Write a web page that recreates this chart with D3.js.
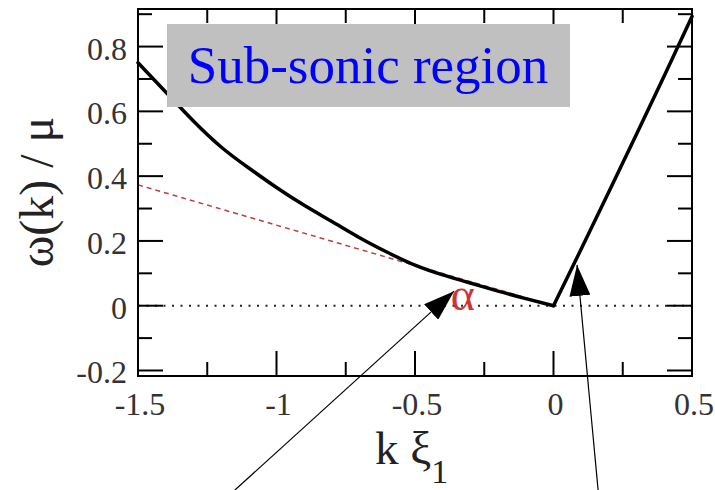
<!DOCTYPE html>
<html>
<head>
<meta charset="utf-8">
<script src="https://cdn.jsdelivr.net/npm/d3@7"></script>
<style>
  html, body { margin: 0; padding: 0; background: #fff; }
  svg { display: block; }
</style>
</head>
<body>
<svg id="chart" width="715" height="490"></svg>
<script>
// Dispersion curve ω(k)/μ versus k ξ1 (black solid)
const curveK = [-1.5, -1.4, -1.3, -1.2, -1.1, -1.0, -0.9, -0.8, -0.7, -0.6, -0.5, -0.4, -0.3, -0.2, -0.1, 0,
                0.1, 0.2, 0.3, 0.4, 0.5];
const curveW = [0.75, 0.66, 0.57, 0.49, 0.425, 0.365, 0.31, 0.26, 0.21, 0.165, 0.125, 0.095, 0.07, 0.045, 0.022, 0,
                0.175, 0.352, 0.53, 0.71, 0.893];

// Low-k tangent (red dashed)
const tangentK = [-1.5, 0];
const tangentW = [0.373, 0];

// Zero reference (dotted)
const zeroK = [-1.5, 0.5];
const zeroW = [0, 0];

// Tick values
const xMajor = [-1.5, -1, -0.5, 0, 0.5];
const xMinor = [-1.25, -0.75, -0.25, 0.25];
const xLabels = ["-1.5", "-1", "-0.5", "0", "0.5"];
const yMajor = [-0.2, 0, 0.2, 0.4, 0.6, 0.8];
const yMinor = [-0.1, 0.1, 0.3, 0.5, 0.7, 0.9];
const yLabels = ["-0.2", "0", "0.2", "0.4", "0.6", "0.8"];

// Annotation arrows: [tailK, tailW, tipK, tipW]
const arrows = [
  [-1.15, -0.569, -0.359, 0.045],
  [0.161, -0.569, 0.085, 0.126]
];
const alphaLabel = { k: -0.327, w: -0.013, text: "α" };
const regionLabel = "Sub-sonic region";

const SERIF = "'Liberation Serif', 'Times New Roman', Times, 'DejaVu Serif', serif";

const svg = d3.select("#chart");
const L = 138, R = 692, T = 9, B = 376;
const x = d3.scaleLinear().domain([-1.5, 0.5]).range([L, R]);
const y = d3.scaleLinear().domain([-0.217, 0.916]).range([B, T]);

const line = d3.line().x(d => x(d[0])).y(d => y(d[1]));
const smooth = d3.line().x(d => x(d[0])).y(d => y(d[1])).curve(d3.curveNatural);

// zero line
svg.append("path")
  .attr("d", line(zeroK.map((k, i) => [k, zeroW[i]])))
  .attr("fill", "none").attr("stroke", "#222")
  .attr("stroke-width", 2).attr("stroke-dasharray", "2,6.5");

// tangent
svg.append("path")
  .attr("d", line(tangentK.map((k, i) => [k, tangentW[i]])))
  .attr("fill", "none").attr("stroke", "#b84040")
  .attr("stroke-width", 1.5).attr("stroke-dasharray", "5,4");

// dispersion curve, drawn as two branches joined at the k = 0 kink
const pts = curveK.map((k, i) => [k, curveW[i]]);
const leftBranch = pts.filter(p => p[0] <= 0);
const rightBranch = pts.filter(p => p[0] >= 0);
[leftBranch, rightBranch].forEach(b => {
  svg.append("path")
    .attr("d", smooth(b))
    .attr("fill", "none").attr("stroke", "#000")
    .attr("stroke-width", 3.5).attr("stroke-linejoin", "round").attr("stroke-linecap", "round");
});

// frame
svg.append("rect")
  .attr("x", L).attr("y", T).attr("width", R - L).attr("height", B - T)
  .attr("fill", "none").attr("stroke", "#000").attr("stroke-width", 2);

// ticks, inward on all four sides
const MAJ = 25, MIN = 14;
const ticks = svg.append("g").attr("stroke", "#000").attr("stroke-width", 2);
xMajor.concat(xMinor).forEach(v => {
  const len = xMajor.includes(v) ? MAJ : MIN;
  ticks.append("line").attr("x1", x(v)).attr("x2", x(v)).attr("y1", B).attr("y2", B - len);
  ticks.append("line").attr("x1", x(v)).attr("x2", x(v)).attr("y1", T).attr("y2", T + len);
});
yMajor.concat(yMinor).forEach(v => {
  const len = yMajor.includes(v) ? MAJ : MIN;
  ticks.append("line").attr("y1", y(v)).attr("y2", y(v)).attr("x1", L).attr("x2", L + len);
  ticks.append("line").attr("y1", y(v)).attr("y2", y(v)).attr("x1", R).attr("x2", R - len);
});

// tick labels
xMajor.forEach((v, i) => {
  svg.append("text").attr("x", x(v) + 2).attr("y", 415)
    .attr("font-family", SERIF)
    .attr("text-anchor", "middle").attr("font-size", 32).attr("fill", "#333")
    .text(xLabels[i]);
});
yMajor.forEach((v, i) => {
  svg.append("text").attr("x", 127).attr("y", y(v) + 13)
    .attr("font-family", SERIF)
    .attr("text-anchor", "end").attr("font-size", 32).attr("fill", "#333")
    .text(yLabels[i]);
});

// axis titles
const xt = svg.append("text").attr("x", 375).attr("y", 464)
  .attr("font-family", SERIF).attr("font-size", 47).attr("fill", "#222");
xt.append("tspan").text("k ξ");
xt.append("tspan").attr("dy", 19).attr("font-size", 34).text("1");

svg.append("text")
  .attr("transform", "translate(53,192) rotate(-90)")
  .attr("font-family", SERIF)
  .attr("text-anchor", "middle").attr("font-size", 48).attr("fill", "#222")
  .text("ω(k) / μ");

// region label box
svg.append("rect").attr("x", 167).attr("y", 24).attr("width", 403).attr("height", 83).attr("fill", "#c0c0c0");
svg.append("text").attr("x", 368).attr("y", 83)
  .attr("font-family", SERIF)
  .attr("text-anchor", "middle").attr("font-size", 53).attr("fill", "#0000ff")
  .text(regionLabel);

// alpha label
svg.append("text").attr("x", x(alphaLabel.k)).attr("y", y(alphaLabel.w))
  .attr("font-family", SERIF)
  .attr("text-anchor", "middle").attr("font-size", 46).attr("fill", "#cc3535")
  .text(alphaLabel.text);

// arrows
const defs = svg.append("defs");
defs.append("marker").attr("id", "head")
  .attr("viewBox", "0 0 31 21").attr("refX", 31).attr("refY", 10.5)
  .attr("markerWidth", 31).attr("markerHeight", 21)
  .attr("markerUnits", "userSpaceOnUse").attr("orient", "auto")
  .append("path").attr("d", "M0,0 L31,10.5 L0,21 Z").attr("fill", "#000");
arrows.forEach(a => {
  svg.append("line")
    .attr("x1", x(a[0])).attr("y1", y(a[1])).attr("x2", x(a[2])).attr("y2", y(a[3]))
    .attr("stroke", "#000").attr("stroke-width", 1.2)
    .attr("marker-end", "url(#head)");
});
</script>
</body>
</html>
